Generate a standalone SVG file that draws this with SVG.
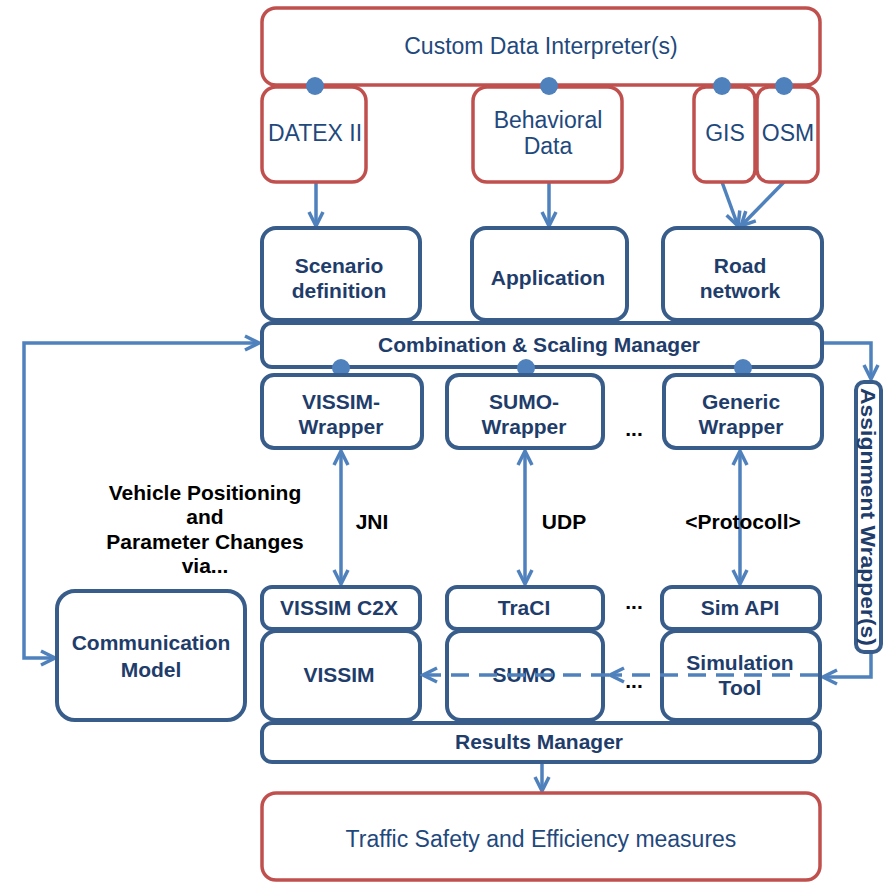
<svg xmlns="http://www.w3.org/2000/svg" width="884" height="884" viewBox="0 0 884 884">
<style>
.red{fill:#fff;stroke:#c0504d;stroke-width:3.5}
.blue{fill:#fff;stroke:#385d8a;stroke-width:4}
.tr{font-family:"Liberation Sans",Arial,sans-serif;font-size:23px;fill:#1f497d;text-anchor:middle}
.tb{font-family:"Liberation Sans",Arial,sans-serif;font-size:21px;font-weight:bold;fill:#1f3d6b;text-anchor:middle}
.tk{font-family:"Liberation Sans",Arial,sans-serif;font-size:21px;font-weight:bold;fill:#000;text-anchor:middle}
.dot{fill:#4f81bd}
.con{fill:none;stroke:#4f81bd;stroke-width:3.5}
</style>
<defs>
<marker id="ah" viewBox="0 0 20 20" refX="17" refY="10" markerWidth="20" markerHeight="20" markerUnits="userSpaceOnUse" orient="auto-start-reverse">
<path d="M3,3 L17,10 L3,17" fill="none" stroke="#4f81bd" stroke-width="3.5"/>
</marker>
</defs>
<rect width="884" height="884" fill="#fff"/>

<g id="connectors">
<path class="con" d="M316,182 L316,226" marker-end="url(#ah)"/>
<path class="con" d="M549,182 L549,226" marker-end="url(#ah)"/>
<path class="con" d="M722,182 L738,226" marker-end="url(#ah)"/>
<path class="con" d="M784,182 L741,226" marker-end="url(#ah)"/>
<path class="con" d="M55,658 L24,658 L24,343 L259,343" marker-start="url(#ah)" marker-end="url(#ah)"/>
<path class="con" d="M822,343 L871,343 L871,379" marker-end="url(#ah)"/>
<path class="con" d="M871,652 L871,677 L823,677" marker-end="url(#ah)"/>
<path class="con" d="M341,451 L341,584" marker-start="url(#ah)" marker-end="url(#ah)"/>
<path class="con" d="M525,451 L525,584" marker-start="url(#ah)" marker-end="url(#ah)"/>
<path class="con" d="M740,451 L740,584" marker-start="url(#ah)" marker-end="url(#ah)"/>
<path class="con" d="M542,764 L542,791" marker-end="url(#ah)"/>
</g>

<g id="custom-data-interpreter">
<rect class="red" x="262" y="8" width="558" height="77" rx="14"/>
<text class="tr" x="541" y="54">Custom Data Interpreter(s)</text>
</g>
<g id="datex">
<rect class="red" x="262" y="87" width="104" height="95" rx="14"/>
<text class="tr" x="315" y="141">DATEX II</text>
</g>
<g id="behavioral">
<rect class="red" x="473" y="87" width="149" height="95" rx="14"/>
<text class="tr" x="548" y="128">Behavioral</text>
<text class="tr" x="548" y="154">Data</text>
</g>
<g id="gis">
<rect class="red" x="694" y="87" width="61" height="95" rx="12"/>
<text class="tr" x="725" y="141">GIS</text>
</g>
<g id="osm">
<rect class="red" x="757" y="87" width="61" height="95" rx="12"/>
<text class="tr" x="788" y="141">OSM</text>
</g>
<g id="dots-top">
<circle class="dot" cx="315" cy="86" r="9"/>
<circle class="dot" cx="549" cy="86" r="9"/>
<circle class="dot" cx="722" cy="86" r="9"/>
<circle class="dot" cx="784" cy="86" r="9"/>
</g>

<g id="scenario">
<rect class="blue" x="262" y="228" width="158" height="92" rx="14"/>
<text class="tb" x="339" y="273">Scenario</text>
<text class="tb" x="339" y="298">definition</text>
</g>
<g id="application">
<rect class="blue" x="472" y="228" width="155" height="92" rx="14"/>
<text class="tb" x="548" y="285">Application</text>
</g>
<g id="road">
<rect class="blue" x="663" y="228" width="159" height="92" rx="14"/>
<text class="tb" x="740" y="273">Road</text>
<text class="tb" x="740" y="298">network</text>
</g>
<g id="combination">
<rect class="blue" x="262" y="323" width="560" height="44" rx="10"/>
<text class="tb" x="539" y="352">Combination &amp; Scaling Manager</text>
</g>
<g id="dots-mid">
<circle class="dot" cx="341" cy="368" r="9"/>
<circle class="dot" cx="526" cy="368" r="9"/>
<circle class="dot" cx="743" cy="368" r="9"/>
</g>
<g id="vissim-wrapper">
<rect class="blue" x="262" y="375" width="160" height="73" rx="12"/>
<text class="tb" x="341" y="409">VISSIM-</text>
<text class="tb" x="341" y="434">Wrapper</text>
</g>
<g id="sumo-wrapper">
<rect class="blue" x="447" y="375" width="156" height="73" rx="12"/>
<text class="tb" x="524" y="409">SUMO-</text>
<text class="tb" x="524" y="434">Wrapper</text>
</g>
<g id="generic-wrapper">
<rect class="blue" x="664" y="375" width="158" height="73" rx="12"/>
<text class="tb" x="741" y="409">Generic</text>
<text class="tb" x="741" y="434">Wrapper</text>
</g>
<g id="assignment">
<rect class="blue" x="856" y="382" width="25" height="270" rx="8"/>
<text class="tb" transform="translate(861,517) rotate(90)" x="0" y="0" textLength="258" lengthAdjust="spacingAndGlyphs">Assignment Wrapper(s)</text>
</g>

<g id="labels">
<text class="tk" x="634" y="436">...</text>
<text class="tk" x="205" y="500">Vehicle Positioning</text>
<text class="tk" x="205" y="524">and</text>
<text class="tk" x="205" y="549">Parameter Changes</text>
<text class="tk" x="205" y="573">via...</text>
<text class="tk" x="372" y="529">JNI</text>
<text class="tk" x="564" y="529">UDP</text>
<text class="tk" x="743" y="529">&lt;Protocoll&gt;</text>
<text class="tk" x="634" y="609">...</text>
<text class="tk" x="634" y="688">...</text>
</g>

<g id="communication">
<rect class="blue" x="57" y="591" width="188" height="129" rx="18"/>
<text class="tb" x="151" y="650">Communication</text>
<text class="tb" x="151" y="677">Model</text>
</g>
<g id="vissim-c2x">
<rect class="blue" x="262" y="587" width="158" height="42" rx="10"/>
<text class="tb" x="339" y="615">VISSIM C2X</text>
</g>
<g id="traci">
<rect class="blue" x="447" y="587" width="156" height="42" rx="10"/>
<text class="tb" x="524" y="615">TraCI</text>
</g>
<g id="sim-api">
<rect class="blue" x="662" y="587" width="158" height="42" rx="10"/>
<text class="tb" x="740" y="615">Sim API</text>
</g>
<g id="vissim">
<rect class="blue" x="262" y="631" width="158" height="89" rx="14"/>
<text class="tb" x="339" y="682">VISSIM</text>
</g>
<g id="sumo">
<rect class="blue" x="447" y="631" width="156" height="89" rx="14"/>
<text class="tb" x="524" y="682">SUMO</text>
</g>
<g id="simulation-tool">
<rect class="blue" x="662" y="631" width="158" height="89" rx="14"/>
<text class="tb" x="740" y="670">Simulation</text>
<text class="tb" x="740" y="695">Tool</text>
</g>
<g id="results">
<rect class="blue" x="262" y="723" width="558" height="39" rx="10"/>
<text class="tb" x="539" y="749">Results Manager</text>
</g>
<g id="traffic">
<rect class="red" x="262" y="793" width="558" height="87" rx="14"/>
<text class="tr" x="541" y="847">Traffic Safety and Efficiency measures</text>
</g>

<g id="connectors-over">
<path class="con" d="M818,675 L610,675" stroke-dasharray="18,10" stroke-width="4.5" marker-end="url(#ah)"/>
<path class="con" d="M609,675 L423,675" stroke-dasharray="18,10" stroke-width="4.5" marker-end="url(#ah)"/>
</g>
</svg>
